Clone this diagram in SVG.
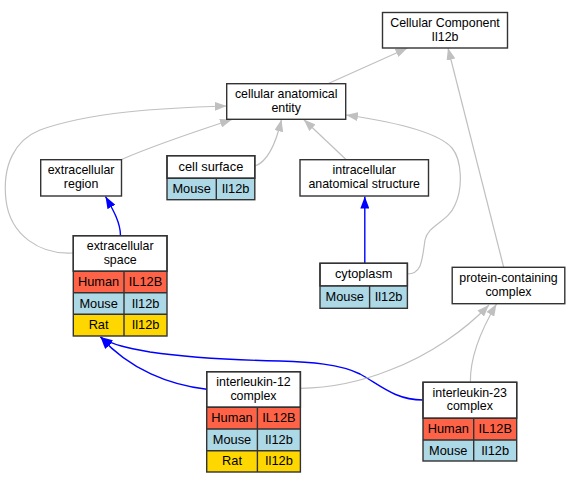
<svg xmlns="http://www.w3.org/2000/svg" width="580" height="483" viewBox="0 0 580 483">
<defs>
<style>
text{font-family:"Liberation Sans",Arial,sans-serif;font-size:12.8px;fill:#000;text-anchor:middle}
text.ml{font-size:12.4px}
.box{fill:#fff;stroke:#333;stroke-width:1.4}
.frame{fill:none;stroke:#333;stroke-width:1.4}
.hu{fill:#ff6347}
.mo{fill:#add8e6}
.ra{fill:#ffd700}
.g{fill:none;stroke:#c0c0c0;stroke-width:1.2}
.b{fill:none;stroke:#0000ff;stroke-width:1.4}
</style>
<marker id="ag" viewBox="0 0 12 9" markerWidth="12" markerHeight="9" refX="12" refY="4.5" orient="auto" markerUnits="userSpaceOnUse"><path d="M0,0 L12,4.5 L0,9 z" fill="#c0c0c0"/></marker>
<marker id="ab" viewBox="0 0 12 9" markerWidth="12" markerHeight="9" refX="12" refY="4.5" orient="auto" markerUnits="userSpaceOnUse"><path d="M0,0 L12,4.5 L0,9 z" fill="#0000ff"/></marker>
</defs>
<g id="edges">
<path class="g" marker-end="url(#ag)" d="M327.8,83.7 L407.5,48"/>
<path class="g" marker-end="url(#ag)" d="M503.7,267.3 L448,48"/>
<path class="g" marker-end="url(#ag)" d="M121.5,159.5 C150,147 200,130 232,119.5"/>
<path class="g" marker-end="url(#ag)" d="M255,166 C267,162 276,143 281.5,119.5"/>
<path class="g" marker-end="url(#ag)" d="M346.3,159.7 L303.7,119.5"/>
<path class="g" marker-end="url(#ag)" d="M73,253 C40,255 10,235 6,200 C2,165 15,140 40,130 C90,112 160,108 226.7,106"/>
<path class="g" marker-end="url(#ag)" d="M407.4,274 C422,274 422,260 425,240 C428,225 448,222 455,205 C463,188 462,160 452,148 C438,132 395,122 346,115"/>
<path class="b" marker-end="url(#ab)" d="M120.5,235.7 C120.5,222 112,208 105.5,196.5"/>
<path class="b" marker-end="url(#ab)" d="M364.8,263.3 L364.8,196.5"/>
<path class="b" marker-end="url(#ab)" d="M206.7,389.3 C170,385 130,370 100.5,337"/>
<path class="b" marker-end="url(#ab)" d="M423,400 C395,400 380,385 360,374 C340,364 310,362 280,361 C230,360 190,358 150,352 C128,348 112,345 100.5,337"/>
<path class="g" marker-end="url(#ag)" d="M300.4,388.3 C330,388 360,382 390,370 C430,355 465,330 489,305"/>
<path class="g" marker-end="url(#ag)" d="M470.4,382.3 C470,360 478,335 496.5,304"/>
</g>
<g id="n_cc">
<rect class="box" x="382.5" y="12.5" width="125" height="35.5"/>
<text class="ml" x="445" y="27">Cellular Component<tspan x="445" dy="13.9">Il12b</tspan></text>
</g>
<g id="n_cae">
<rect class="box" x="226.7" y="83.7" width="119" height="35.6"/>
<text class="ml" x="286.2" y="97.8">cellular anatomical<tspan x="286.2" dy="13.9">entity</tspan></text>
</g>
<g id="n_er">
<rect class="box" x="40.7" y="159.7" width="80.8" height="36.3"/>
<text class="ml" x="81.1" y="174">extracellular<tspan x="81.1" dy="13.9">region</tspan></text>
</g>
<g id="n_cs">
<rect class="box" x="167" y="155.7" width="87.8" height="22.6"/>
<rect class="mo" x="167" y="178.3" width="87.8" height="21.4"/>
<rect class="frame" x="167" y="155.7" width="87.8" height="44"/>
<path class="frame" d="M167,178.3 H254.8 M216.3,178.3 V199.7"/>
<text x="210.9" y="171">cell surface</text>
<text x="191.6" y="193">Mouse</text>
<text x="235.5" y="193">Il12b</text>
</g>
<g id="n_ias">
<rect class="box" x="300" y="159.7" width="128.5" height="36.3"/>
<text class="ml" x="364.2" y="174">intracellular<tspan x="364.2" dy="13.9">anatomical structure</tspan></text>
</g>
<g id="n_es">
<rect class="box" x="73.3" y="235.7" width="93.7" height="35.6"/>
<rect class="hu" x="73.3" y="271.3" width="93.7" height="21.4"/>
<rect class="mo" x="73.3" y="292.7" width="93.7" height="21.6"/>
<rect class="ra" x="73.3" y="314.3" width="93.7" height="21.7"/>
<rect class="frame" x="73.3" y="235.7" width="93.7" height="100.3"/>
<path class="frame" d="M73.3,271.3 H167 M73.3,292.7 H167 M73.3,314.3 H167 M124,271.3 V336"/>
<text class="ml" x="120.2" y="249.7">extracellular<tspan x="120.2" dy="13.9">space</tspan></text>
<text x="98.6" y="286">Human</text>
<text x="145.5" y="286">IL12B</text>
<text x="98.6" y="307.5">Mouse</text>
<text x="145.5" y="307.5">Il12b</text>
<text x="98.6" y="329.1">Rat</text>
<text x="145.5" y="329.1">Il12b</text>
</g>
<g id="n_cy">
<rect class="box" x="320" y="263.3" width="87.4" height="22.7"/>
<rect class="mo" x="320" y="286" width="87.4" height="22.3"/>
<rect class="frame" x="320" y="263.3" width="87.4" height="45"/>
<path class="frame" d="M320,286 H407.4 M369.6,286 V308.3"/>
<text x="363.7" y="278">cytoplasm</text>
<text x="344.8" y="301.1">Mouse</text>
<text x="388.5" y="301.1">Il12b</text>
</g>
<g id="n_pcc">
<rect class="box" x="452.2" y="267.3" width="112.6" height="36.4"/>
<text class="ml" x="508.5" y="281.7">protein-containing<tspan x="508.5" dy="13.9">complex</tspan></text>
</g>
<g id="n_il12">
<rect class="box" x="206.7" y="371.7" width="93.7" height="35.6"/>
<rect class="hu" x="206.7" y="407.3" width="93.7" height="21.7"/>
<rect class="mo" x="206.7" y="429" width="93.7" height="21.7"/>
<rect class="ra" x="206.7" y="450.7" width="93.7" height="21.3"/>
<rect class="frame" x="206.7" y="371.7" width="93.7" height="100.3"/>
<path class="frame" d="M206.7,407.3 H300.4 M206.7,429 H300.4 M206.7,450.7 H300.4 M257.4,407.3 V472"/>
<text class="ml" x="253.5" y="385.7">interleukin-12<tspan x="253.5" dy="13.9">complex</tspan></text>
<text x="232" y="422.2">Human</text>
<text x="278.9" y="422.2">IL12B</text>
<text x="232" y="443.9">Mouse</text>
<text x="278.9" y="443.9">Il12b</text>
<text x="232" y="465.4">Rat</text>
<text x="278.9" y="465.4">Il12b</text>
</g>
<g id="n_il23">
<rect class="box" x="423" y="382.3" width="93.7" height="36"/>
<rect class="hu" x="423" y="418.3" width="93.7" height="21.7"/>
<rect class="mo" x="423" y="440" width="93.7" height="21"/>
<rect class="frame" x="423" y="382.3" width="93.7" height="78.7"/>
<path class="frame" d="M423,418.3 H516.7 M423,440 H516.7 M473.7,418.3 V461"/>
<text class="ml" x="469.8" y="396.5">interleukin-23<tspan x="469.8" dy="13.9">complex</tspan></text>
<text x="448.3" y="433.2">Human</text>
<text x="495.2" y="433.2">IL12B</text>
<text x="448.3" y="454.5">Mouse</text>
<text x="495.2" y="454.5">Il12b</text>
</g>
</svg>
